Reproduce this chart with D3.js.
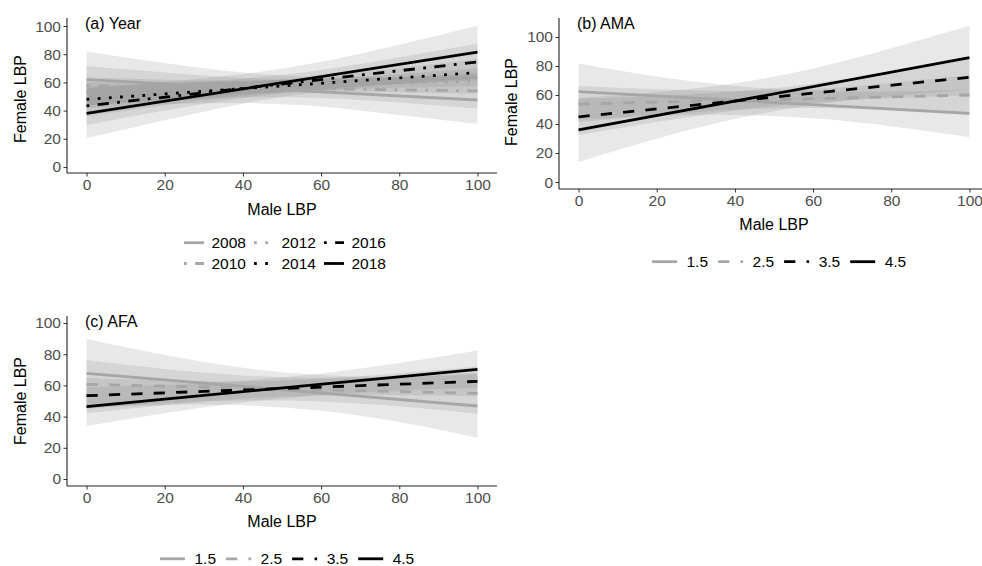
<!DOCTYPE html>
<html>
<head>
<meta charset="utf-8">
<script src="https://cdn.jsdelivr.net/npm/d3@7"></script>
<style>
  body { margin: 0; background: #fff; }
  svg { display: block; font-family: "Liberation Sans", Arial, sans-serif; }
  .tick text { fill: #4d4d4d; font-size: 15.5px; }
  .tick line { stroke: #333; }
  .domain { display: none; }
</style>
</head>
<body>
<svg id="chart" width="982" height="566"></svg>
<script>
var xGrid = [0, 20, 40, 60, 80, 100];
var fitX = [0, 100];
var tickVals = [0, 20, 40, 60, 80, 100];

// (a) Year
var yearLevels = ["2008", "2010", "2012", "2014", "2016", "2018"];
var yearFit = [[62, 47.5], [57.7, 54], [53.4, 61], [48, 67], [43.3, 74.5], [38, 81.5]];
var yearLo = [
  [42, 44.5, 45.4, 42.9, 36.9, 30.5],
  [43.7, 47, 49.2, 49, 45.7, 41.5],
  [43.4, 47.9, 51.6, 53.2, 53, 52],
  [36, 43.8, 50.6, 54.4, 56.2, 57.5],
  [29.8, 40, 49, 55.2, 58.8, 61.5],
  [20.5, 33.2, 44.9, 53.6, 58.8, 62.8]
];
var yearHi = [
  [82, 73.7, 67, 63.7, 64, 64.5],
  [71.7, 67, 63.2, 62, 63.7, 66.5],
  [63.4, 61.9, 61.2, 62.8, 66, 70],
  [60, 59.8, 60.6, 64.4, 70.2, 76.5],
  [56.8, 59, 62.6, 68.8, 77.8, 87.5],
  [55.5, 60.2, 65.9, 74.6, 86.8, 100.2]
];

// (b) AMA
var amaLevels = ["1.5", "2.5", "3.5", "4.5"];
var amaFit = [[62.3, 47.4], [53.8, 60], [45, 72.2], [35.9, 85.7]];
var amaLo = [
  [42.8, 45.8, 46.3, 43.9, 38.4, 30.8],
  [41.4, 46, 49.8, 51, 49.3, 46.2],
  [32.4, 41.4, 49.4, 54.8, 57.8, 59.7],
  [13.9, 29.9, 43.5, 53.3, 59.2, 63.7]
];
var amaHi = [
  [81.8, 72.8, 66.3, 62.9, 62.4, 64],
  [66.2, 64, 62.8, 64, 68.3, 73.8],
  [57.6, 59.4, 62.4, 67.8, 75.8, 84.7],
  [57.9, 61.9, 68.1, 78.3, 92.2, 107.7]
];

// (c) AFA
var afaLevels = ["1.5", "2.5", "3.5", "4.5"];
var afaFit = [[67.7, 46.8], [60.7, 54.9], [53.4, 62.6], [46.4, 70.3]];
var afaLo = [
  [45.7, 47.5, 47.3, 43.7, 36.5, 26.5],
  [45.1, 48.5, 50.4, 49.7, 46.6, 41.9],
  [42.1, 47.2, 51.6, 53.6, 53.8, 53.1],
  [34, 42.2, 49, 53.7, 56.7, 58.3]
];
var afaHi = [
  [89.7, 79.5, 71.3, 66.7, 65.5, 67.1],
  [76.3, 70.5, 66.4, 64.7, 65.6, 67.9],
  [64.7, 63.2, 62.6, 64.2, 67.8, 72.1],
  [58.8, 60.2, 63, 67.7, 74.3, 82.3]
];

var lw = 2.8;
var grey = "#a6a6a6";
var dashes = {
  solid: null,
  dashed: [4 * lw, 4 * lw].join(","),
  dotted: [lw, 3 * lw].join(","),
  dotdash: [lw, 3 * lw, 4 * lw, 3 * lw].join(",")
};
var yearStyles = [
  {c: grey, d: "solid"}, {c: grey, d: "dotdash"}, {c: grey, d: "dotted"},
  {c: "#000", d: "dotted"}, {c: "#000", d: "dotdash"}, {c: "#000", d: "solid"}
];
var ageStyles = [
  {c: grey, d: "solid"}, {c: grey, d: "dashed"}, {c: "#000", d: "dashed"}, {c: "#000", d: "solid"}
];

var panels = [
  {title: "(a) Year", levels: yearLevels, fit: yearFit, lo: yearLo, hi: yearHi, styles: yearStyles,
   left: 67, right: 497, top: 18, bottom: 173, yDom: [-4.3, 105.7],
   titleX: 85, titleY: 29.3, yLabX: 26, yLabY: 99, xLabY: 215,
   legend: {rows: 2, x: 184, y: 242.7, rowGap: 20.8, keyW: 20, gapKL: 7.5, gapItem: 8}},
  {title: "(b) AMA", levels: amaLevels, fit: amaFit, lo: amaLo, hi: amaHi, styles: ageStyles,
   left: 559, right: 989, top: 18, bottom: 189, yDom: [-4.8, 113.1],
   titleX: 577, titleY: 29.3, yLabX: 517, yLabY: 102, xLabY: 230,
   legend: {rows: 1, x: 652, y: 261.7, rowGap: 0, keyW: 25, gapKL: 9.5, gapItem: 10}},
  {title: "(c) AFA", levels: afaLevels, fit: afaFit, lo: afaLo, hi: afaHi, styles: ageStyles,
   left: 67, right: 497, top: 316, bottom: 486, yDom: [-4.5, 104.5],
   titleX: 85, titleY: 327.3, yLabX: 26, yLabY: 401, xLabY: 526.7,
   legend: {rows: 1, x: 160, y: 558.8, rowGap: 0, keyW: 25, gapKL: 9.5, gapItem: 10}}
];

var svg = d3.select("#chart");

panels.forEach(function (p) {
  var g = svg.append("g");
  var x = d3.scaleLinear().domain([-5, 105]).range([p.left, p.right]);
  var y = d3.scaleLinear().domain(p.yDom).range([p.bottom, p.top]);

  var area = d3.area()
    .x(function (d) { return x(d.x); })
    .y0(function (d) { return y(d.lo); })
    .y1(function (d) { return y(d.hi); })
    .curve(d3.curveNatural);

  // confidence ribbons
  p.levels.forEach(function (lev, i) {
    var rows = xGrid.map(function (xv, j) { return {x: xv, lo: p.lo[i][j], hi: p.hi[i][j]}; });
    g.append("path")
      .attr("d", area(rows))
      .attr("fill", "#808080")
      .attr("fill-opacity", 0.18);
  });

  // fitted lines
  var line = d3.line()
    .x(function (d) { return x(d[0]); })
    .y(function (d) { return y(d[1]); });
  p.levels.forEach(function (lev, i) {
    var pts = fitX.map(function (xv, j) { return [xv, p.fit[i][j]]; });
    g.append("path")
      .attr("d", line(pts))
      .attr("fill", "none")
      .attr("stroke", p.styles[i].c)
      .attr("stroke-width", lw)
      .attr("stroke-dasharray", dashes[p.styles[i].d]);
  });

  // axes
  g.append("g")
    .attr("transform", "translate(0," + p.bottom + ")")
    .call(d3.axisBottom(x).tickValues(tickVals).tickSize(3.5).tickPadding(2.5));
  g.append("g")
    .attr("transform", "translate(" + p.left + ",0)")
    .call(d3.axisLeft(y).tickValues(tickVals).tickSize(3.5).tickPadding(2.5));
  g.append("line")
    .attr("x1", p.left).attr("x2", p.right)
    .attr("y1", p.bottom).attr("y2", p.bottom)
    .attr("stroke", "#222").attr("stroke-width", 1.1);
  g.append("line")
    .attr("x1", p.left).attr("x2", p.left)
    .attr("y1", p.top).attr("y2", p.bottom)
    .attr("stroke", "#222").attr("stroke-width", 1.1);

  // labels
  g.append("text")
    .attr("x", p.titleX).attr("y", p.titleY)
    .attr("font-size", 16).attr("fill", "#000")
    .text(p.title);
  g.append("text")
    .attr("x", (x(0) + x(100)) / 2).attr("y", p.xLabY)
    .attr("text-anchor", "middle")
    .attr("font-size", 16).attr("fill", "#000")
    .text("Male LBP");
  g.append("text")
    .attr("transform", "translate(" + p.yLabX + "," + p.yLabY + ") rotate(-90)")
    .attr("text-anchor", "middle")
    .attr("font-size", 16).attr("fill", "#000")
    .text("Female LBP");

  // legend
  var L = p.legend;
  var cols = Math.ceil(p.levels.length / L.rows);
  var cx = L.x;
  for (var c = 0; c < cols; c++) {
    var maxW = 0;
    for (var r = 0; r < L.rows; r++) {
      var i = c * L.rows + r;
      if (i >= p.levels.length) continue;
      var ky = L.y + r * L.rowGap;
      g.append("line")
        .attr("x1", cx).attr("x2", cx + L.keyW)
        .attr("y1", ky).attr("y2", ky)
        .attr("stroke", p.styles[i].c)
        .attr("stroke-width", lw)
        .attr("stroke-dasharray", dashes[p.styles[i].d]);
      var t = g.append("text")
        .attr("x", cx + L.keyW + L.gapKL).attr("y", ky)
        .attr("dy", "0.36em")
        .attr("font-size", 15.5).attr("fill", "#000")
        .text(p.levels[i]);
      maxW = Math.max(maxW, t.node().getComputedTextLength());
    }
    cx += L.keyW + L.gapKL + maxW + L.gapItem;
  }
});
</script>
</body>
</html>
